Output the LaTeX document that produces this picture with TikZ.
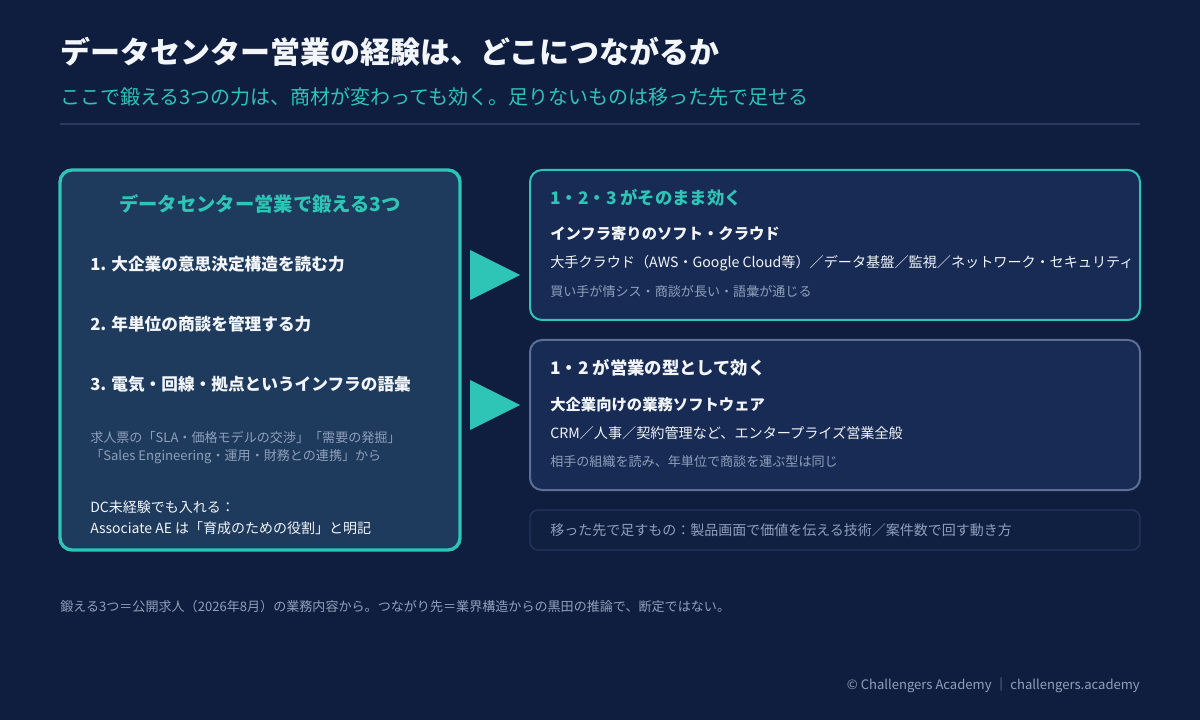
\documentclass[tikz,border=0pt]{standalone}
\usepackage{fontspec}
\setmainfont{Noto Sans CJK JP}
\definecolor{bg}{HTML}{0F1E3E}
\definecolor{teal}{HTML}{2EC4B6}
\definecolor{lbox}{HTML}{1E3A5C}
\definecolor{rbox}{HTML}{182B54}
\definecolor{gtxt}{HTML}{8FA0BB}
\definecolor{wtxt}{HTML}{F2F5FA}
\definecolor{bord2}{HTML}{5A6E96}
\definecolor{bord3}{HTML}{24365C}
\definecolor{rule}{HTML}{2A3B5E}
\begin{document}
\begin{tikzpicture}[x=0.75pt,y=-0.75pt,
  t/.style={anchor=west,inner sep=0,text=wtxt},
  big/.style={t,font=\fontsize{11.5}{14}\selectfont\bfseries},
  body/.style={t,font=\fontsize{10.6}{14}\selectfont},
  small/.style={t,text=gtxt,font=\fontsize{9.8}{13}\selectfont},
  hd/.style={t,text=teal,font=\fontsize{13}{16}\selectfont\bfseries},
  arr/.style={fill=teal,draw=none}]
\fill[bg] (0,0) rectangle (1200,720);
\node[t,font=\fontsize{22.5}{26}\selectfont\bfseries] (title) at (60,52) {データセンター営業の経験は、どこにつながるか};
\node[t,text=teal,font=\fontsize{15}{18}\selectfont] (sub) at (60,97) {ここで鍛える3つの力は、商材が変わっても効く。足りないものは移った先で足せる};
\draw[rule,line width=1pt] (60,124) -- (1140,124);
% left box
\draw[teal,line width=2.5pt,fill=lbox,rounded corners=9pt] (60,170) rectangle (460,550);
\node[anchor=center,inner sep=0,text=teal,font=\fontsize{14.5}{18}\selectfont\bfseries] (lh) at (260,204) {データセンター営業で鍛える3つ};
\node[big,font=\fontsize{12.5}{15}\selectfont\bfseries] (i1) at (90,264) {1. 大企業の意思決定構造を読む力};
\node[big,font=\fontsize{12.5}{15}\selectfont\bfseries] (i2) at (90,324) {2. 年単位の商談を管理する力};
\node[big,font=\fontsize{12.5}{15}\selectfont\bfseries] (i3) at (90,384) {3. 電気・回線・拠点というインフラの語彙};
\node[small] (g1) at (90,437) {求人票の「SLA・価格モデルの交渉」「需要の発掘」};
\node[small] (g2) at (90,457) {「Sales Engineering・運用・財務との連携」から};
\node[body,font=\fontsize{10.5}{13}\selectfont] (d1) at (90,507) {DC未経験でも入れる：};
\node[body,font=\fontsize{10.5}{13}\selectfont] (d2) at (90,528) {Associate AE は「育成のための役割」と明記};
% arrows
\fill[arr] (470,250) -- (520,275) -- (470,300) -- cycle;
\fill[arr] (470,380) -- (520,405) -- (470,430) -- cycle;
% right box 1
\draw[teal,line width=1.5pt,fill=rbox,rounded corners=9pt] (530,170) rectangle (1140,320);
\node[hd] (h1) at (550,198) {1・2・3 がそのまま効く};
\node[big] (b1) at (550,234) {インフラ寄りのソフト・クラウド};
\node[body] (c1) at (550,263) {大手クラウド（AWS・Google Cloud等）／データ基盤／監視／ネットワーク・セキュリティ};
\node[small] (s1) at (550,292) {買い手が情シス・商談が長い・語彙が通じる};
% right box 2
\draw[bord2,line width=1.5pt,fill=rbox,rounded corners=9pt] (530,340) rectangle (1140,490);
\node[hd,text=wtxt] (h2) at (550,368) {1・2 が営業の型として効く};
\node[big] (b2) at (550,405) {大企業向けの業務ソフトウェア};
\node[body] (c2) at (550,433) {CRM／人事／契約管理など、エンタープライズ営業全般};
\node[small] (s2) at (550,462) {相手の組織を読み、年単位で商談を運ぶ型は同じ};
% box 3
\draw[bord3,line width=1pt,fill=bg!85!rbox,rounded corners=6pt] (530,510) rectangle (1140,550);
\node[small,font=\fontsize{10.5}{13}\selectfont] (n3) at (550,530) {移った先で足すもの：製品画面で価値を伝える技術／案件数で回す動き方};
% footer
\node[small,font=\fontsize{9.8}{12}\selectfont] (fn) at (60,607) {鍛える3つ＝公開求人（2026年8月）の業務内容から。つながり先＝業界構造からの黒田の推論で、断定ではない。};
\node[small,anchor=east,font=\fontsize{9.8}{12}\selectfont] (ft) at (1140,685) {© Challengers Academy ｜ challengers.academy};
\end{tikzpicture}
\end{document}
